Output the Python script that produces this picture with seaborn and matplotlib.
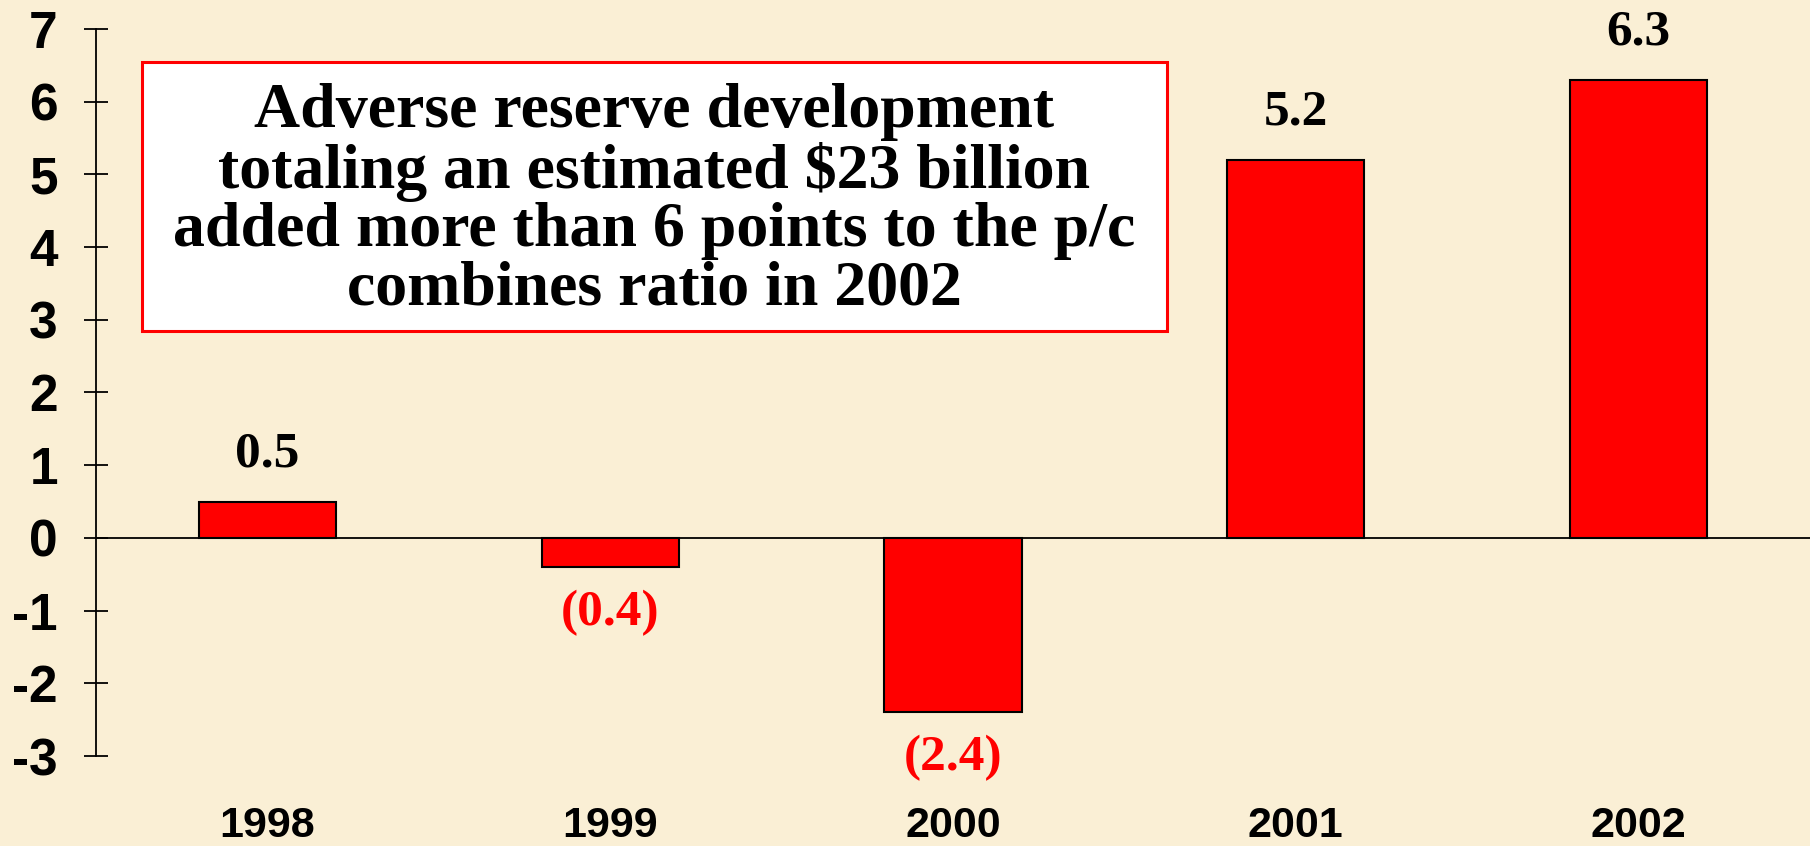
import matplotlib
matplotlib.use("Agg")
import matplotlib.pyplot as plt
from matplotlib.patches import Rectangle
import seaborn as sns
import pandas as pd

years = ["1998", "1999", "2000", "2001", "2002"]
values = [0.5, -0.4, -2.4, 5.2, 6.3]
ytick_vals = [-3, -2, -1, 0, 1, 2, 3, 4, 5, 6, 7]
ytick_labels = ["-3", "-2", "-1", "0", "1", "2", "3", "4", "5", "6", "7"]
box_lines = ["Adverse reserve development",
             "totaling an estimated $23 billion",
             "added more than 6 points to the p/c",
             "combines ratio in 2002"]

BG = "#FAEFD5"
sns.set_theme(style="ticks")
plt.rcParams["font.family"] = ["Liberation Sans", "DejaVu Sans"]
plt.rcParams["axes.unicode_minus"] = False
plt.rcParams["text.color"] = "black"
plt.rcParams["xtick.color"] = "black"
plt.rcParams["ytick.color"] = "black"
plt.rcParams["xtick.labelcolor"] = "black"
plt.rcParams["ytick.labelcolor"] = "black"

df = pd.DataFrame({"year": years, "value": values})

DPI = 100
fig = plt.figure(figsize=(18.10, 8.46), dpi=DPI, facecolor=BG)
W, H = 1810, 846
ax = fig.add_axes([96 / W, 1 - 756 / H, 1 - 96 / W, (756 - 29) / H])
ax.set_facecolor("none")

sns.barplot(data=df, x="year", y="value", color="#FF0000", saturation=1,
            edgecolor="black", linewidth=1.5, width=0.4, ax=ax)

ax.set_xlim(-0.5, 4.5)
ax.set_ylim(-3, 7)
ax.axhline(0, color="black", lw=1.3, zorder=1)

for s in ["top", "right", "bottom"]:
    ax.spines[s].set_visible(False)
ax.spines["left"].set_color("black")
ax.spines["left"].set_linewidth(1.3)

ax.set_yticks(ytick_vals)
ax.set_yticklabels(ytick_labels, fontsize=37, fontweight="bold", color="black")
ax.tick_params(axis="y", direction="inout", length=17, width=1.3, pad=19, colors="black")
ax.tick_params(axis="x", length=0, pad=36, labelsize=31, labelcolor="black")
for t in ax.get_xticklabels():
    t.set_fontweight("bold")
ax.set_xlabel("")
ax.set_ylabel("")

serif = ["Liberation Serif", "DejaVu Serif"]
for i, v in enumerate(values):
    if v >= 0:
        ax.annotate(f"{v:.1f}", xy=(i, v), xytext=(0, 34), textcoords="offset points",
                    ha="center", va="center", fontsize=37, fontweight="bold",
                    family=serif, color="black")
    else:
        ax.annotate(f"({abs(v):.1f})", xy=(i, v), xytext=(0, -33), textcoords="offset points",
                    ha="center", va="center", fontsize=37, fontweight="bold",
                    family=serif, color="#FF0000")

# annotation box
bx0, bx1, by0, by1 = 142, 1167, 62, 331
fig.patches.append(Rectangle((bx0 / W, 1 - by1 / H), (bx1 - bx0) / W, (by1 - by0) / H,
                             transform=fig.transFigure, facecolor="white",
                             edgecolor="#FF0000", linewidth=2.2, zorder=5))
fig.text((bx0 + bx1) / 2 / W, 1 - 201 / H, "\n".join(box_lines), ha="center", va="center",
         fontsize=46, fontweight="bold", family=serif, linespacing=1.01, zorder=6,
         color="black")

fig.savefig("out.png", dpi=DPI, facecolor=BG)
